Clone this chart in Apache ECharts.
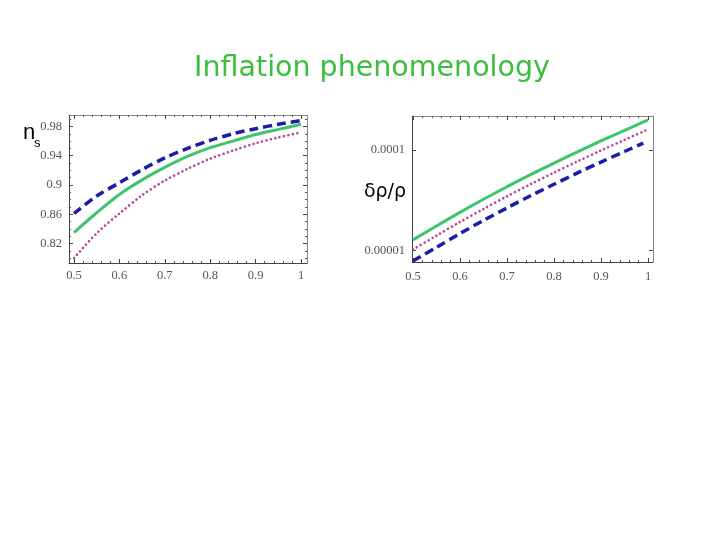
<!DOCTYPE html>
<html><head><meta charset="utf-8">
<script src="https://cdn.jsdelivr.net/npm/echarts@6/dist/echarts.min.js"></script>
<style>html,body{margin:0;padding:0;background:#fff}#c{width:720px;height:540px}</style>
</head><body><div id="c"></div>
<script>
// ---------- data ----------
const xValues = [0.5, 0.55, 0.6, 0.65, 0.7, 0.75, 0.8, 0.85, 0.9, 0.95, 1.0];
const nsDashed = [0.861, 0.885, 0.903, 0.921, 0.937, 0.950, 0.961, 0.970, 0.977, 0.983, 0.988];
const nsSolid  = [0.835, 0.862, 0.887, 0.907, 0.924, 0.939, 0.951, 0.960, 0.969, 0.976, 0.983];
const nsDotted = [0.800, 0.834, 0.861, 0.886, 0.906, 0.922, 0.936, 0.947, 0.957, 0.965, 0.972];

const ampXDashed = [0.5, 0.55, 0.6, 0.65, 0.7, 0.75, 0.8, 0.85, 0.9, 0.95, 0.99];
const ampSolid  = [1.28e-5, 1.76e-5, 2.40e-5, 3.24e-5, 4.32e-5, 5.69e-5, 7.41e-5, 9.59e-5, 1.23e-4, 1.57e-4, 1.99e-4];
const ampDotted = [1.03e-5, 1.41e-5, 1.93e-5, 2.60e-5, 3.47e-5, 4.57e-5, 5.96e-5, 7.71e-5, 9.88e-5, 1.26e-4, 1.60e-4];
const ampDashed = [7.9e-6, 1.08e-5, 1.48e-5, 2.00e-5, 2.66e-5, 3.51e-5, 4.57e-5, 5.92e-5, 7.59e-5, 9.66e-5, 1.17e-4];

const xTicks = [0.5, 0.6, 0.7, 0.8, 0.9, 1];
const xMinorTicks = [0.52,0.54,0.56,0.58,0.62,0.64,0.66,0.68,0.72,0.74,0.76,0.78,0.82,0.84,0.86,0.88,0.92,0.94,0.96,0.98];
const nsTicks = [0.82, 0.86, 0.9, 0.94, 0.98];
const nsMinorTicks = [0.80,0.81,0.83,0.84,0.85,0.87,0.88,0.89,0.91,0.92,0.93,0.95,0.96,0.97,0.99];
const ampTicks = [1e-5, 1e-4];

const titleText = 'Inflation phenomenology';

// ---------- styles ----------
const GREEN = '#3fc46c', BLUE = '#1c1ca8', PINK = '#b24a98';
const labelFont = {fontFamily: 'Liberation Serif', fontSize: 12.5, color: '#555'};

function zip(xs, ys) { return xs.map((x, i) => [x, ys[i]]); }

function axisSet(dim, grid, type, min, max, majors, minors, labelMargin, formatter) {
  const axes = [];
  const sides = dim === 'x' ? ['bottom', 'top'] : ['left', 'right'];
  sides.forEach((pos, k) => {
    const main = {
      type, gridIndex: grid, position: pos, min, max,
      axisLine: {show: true, onZero: false, lineStyle: {color: k === 0 ? '#444' : '#888', width: 1}},
      axisTick: {show: true, inside: true, length: 4, customValues: majors, lineStyle: {color: '#444'}},
      axisLabel: {show: k === 0, customValues: majors, margin: labelMargin, ...labelFont},
      splitLine: {show: false}, minorTick: {show: false}
    };
    if (formatter) main.axisLabel.formatter = formatter;
    if (type === 'log') main.logBase = 10;
    axes.push(main);
    if (minors) {
      axes.push({
        type, gridIndex: grid, position: pos, min, max,
        axisLine: {show: false, onZero: false},
        axisTick: {show: true, inside: true, length: 2, customValues: minors, lineStyle: {color: '#555'}},
        axisLabel: {show: false}, splitLine: {show: false}
      });
    }
  });
  return axes;
}

const xAxes = [
  ...axisSet('x', 0, 'value', 0.489, 1.0132, xTicks, xMinorTicks, 6),
  ...axisSet('x', 1, 'value', 0.4979, 1.0106, xTicks, xMinorTicks, 8)
];
const yAxes = [
  ...axisSet('y', 0, 'value', 0.7933, 0.9957, nsTicks, nsMinorTicks, 7),
  ...axisSet('y', 1, 'log', Math.pow(10, -5.1122), Math.pow(10, -3.6624), ampTicks, null, 7,
    v => v.toFixed(Math.round(-Math.log10(v))))
];
const LX0 = 0, LY0 = 0, RX0 = 4, RY0 = 4;

function line(data, xi, yi, color, type, width, cap) {
  return {
    type: 'line', xAxisIndex: xi, yAxisIndex: yi, data, smooth: 0.3,
    showSymbol: false, symbol: 'none', animation: false,
    lineStyle: {color, type, width, cap: cap || 'butt'}
  };
}

const option = {
  backgroundColor: '#fff',
  animation: false,
  grid: [
    {left: 69, top: 115, width: 238, height: 148, containLabel: false},
    {left: 412, top: 116, width: 241, height: 146, containLabel: false}
  ],
  xAxis: xAxes,
  yAxis: yAxes,
  series: [
    line(zip(xValues, nsDotted), LX0, LY0, PINK, [0.1, 4.4], 2.6, 'round'),
    line(zip(xValues, nsSolid), LX0, LY0, GREEN, 'solid', 3),
    line(zip(xValues, nsDashed), LX0, LY0, BLUE, [9, 5], 3.5),
    line(zip(xValues, ampDotted), RX0, RY0, PINK, [0.1, 4.4], 2.6, 'round'),
    line(zip(xValues, ampSolid), RX0, RY0, GREEN, 'solid', 3),
    line(zip(ampXDashed, ampDashed), RX0, RY0, BLUE, [9, 5], 3.5)
  ],
  graphic: [
    {type: 'text', style: {text: titleText, x: 372, y: 68.5, textAlign: 'center', textVerticalAlign: 'middle',
      fontFamily: 'DejaVu Sans', fontSize: 28.5, fill: '#3cbe3c'}},
    {type: 'text', style: {text: 'n', x: 23, y: 144, textVerticalAlign: 'bottom', fontFamily: 'Liberation Sans', fontSize: 22, fill: '#000'}},
    {type: 'text', style: {text: 's', x: 34, y: 150, textVerticalAlign: 'bottom', fontFamily: 'Liberation Sans', fontSize: 13, fill: '#000'}},
    {type: 'text', style: {text: 'δρ/ρ', x: 385, y: 192, textAlign: 'center', textVerticalAlign: 'middle', fontFamily: 'DejaVu Sans', fontSize: 19, fill: '#000'}}
  ]
};

const chart = echarts.init(document.getElementById('c'), null, {renderer: 'canvas'});
chart.setOption(option);
</script>
</body></html>
